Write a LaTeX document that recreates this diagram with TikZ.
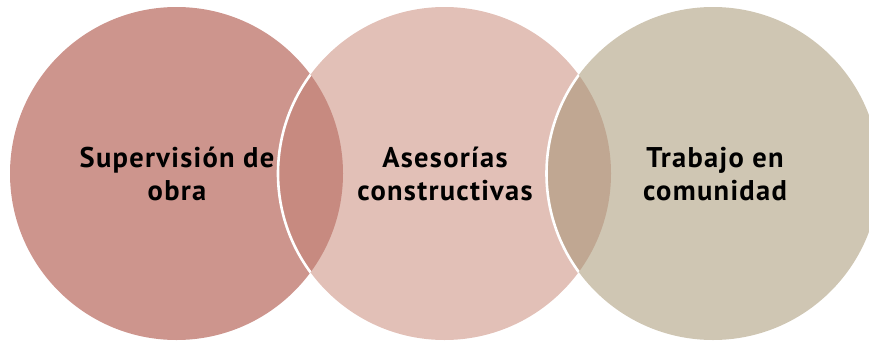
\documentclass[tikz,border=0pt]{standalone}
\usepackage{fontspec}
\setmainfont{PT Sans}
\newfontfamily\lblfont[LetterSpace=4.5]{PT Sans}
\definecolor{cA}{HTML}{CD958D}
\definecolor{cB}{HTML}{E2C0B7}
\definecolor{cC}{HTML}{CFC6B3}
\definecolor{cAB}{HTML}{C78A80}
\definecolor{cBC}{HTML}{C0A792}
\begin{document}
\begin{tikzpicture}[x=1pt,y=-1pt,
  lbl/.style={align=center,font=\lblfont\fontsize{28.5}{33}\selectfont\bfseries,text=black,inner sep=0pt},
  rim/.style={draw=white,line width=2.6pt}]
\useasboundingbox (0,0) rectangle (869,343);
\coordinate (p1) at (176.5,173.5);
\coordinate (p2) at (444.5,173.5);
\coordinate (p3) at (713,173.5);
\def\R{166.5}
\fill[cA] (p1) circle (\R);
\fill[cB] (p2) circle (\R);
\fill[cC] (p3) circle (\R);
\begin{scope}
  \clip (p1) circle (\R);
  \fill[cAB] (p2) circle (\R);
  \draw[rim] (p2) circle (\R);
\end{scope}
\begin{scope}
  \clip (p2) circle (\R);
  \fill[cBC] (p3) circle (\R);
  \draw[rim] (p3) circle (\R);
\end{scope}
\node[lbl] (t1) at (177,174) {Supervisión de\\obra};
\node[lbl] (t2) at (445,174) {Asesorías\\constructivas};
\node[lbl] (t3) at (715,174) {Trabajo en\\comunidad};
\end{tikzpicture}
\end{document}
